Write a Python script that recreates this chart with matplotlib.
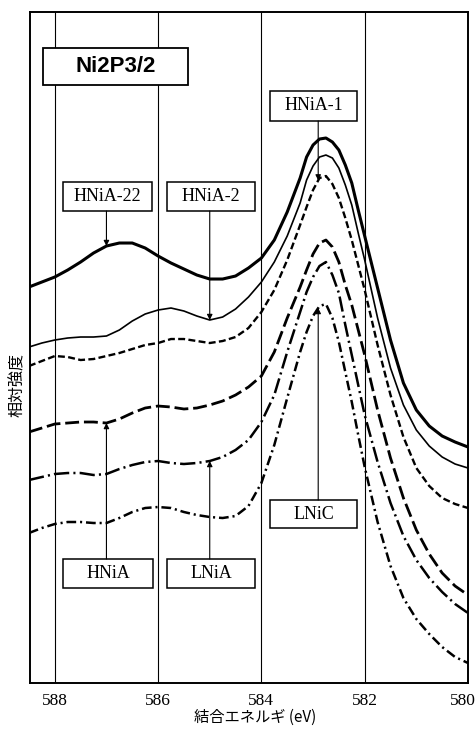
import numpy as np
import matplotlib
matplotlib.use("Agg")
import matplotlib.pyplot as plt
from matplotlib.patches import Rectangle
from matplotlib.transforms import blended_transform_factory, ScaledTranslation

plt.rcParams["lines.scale_dashes"] = False

# binding energy grid (eV), denser around the 2p3/2 main peak
energy = [588.5, 588.25, 588.0, 587.75, 587.5, 587.25, 587.0, 586.75, 586.5, 586.25,
          586.0, 585.75, 585.5, 585.25, 585.0, 584.75, 584.5, 584.25, 584.0,
          583.75, 583.5, 583.25,
          583.125, 583.0, 582.875, 582.75, 582.625, 582.5, 582.375, 582.25, 582.125, 582.0,
          581.75, 581.5, 581.25, 581.0, 580.75, 580.5, 580.25, 580.0]

# relative intensity (a.u., stacked with offsets)
hnia_22 = [39.6, 40.1, 40.6, 41.3, 42.1, 43.0, 43.7, 44.0, 44.0, 43.5,
           42.7, 42.0, 41.4, 40.8, 40.4, 40.4, 40.7, 41.5, 42.5,
           44.3, 47.1, 50.5,
           52.6, 53.8, 54.4, 54.5, 54.1, 53.3, 51.8, 50.0, 47.3, 44.7,
           39.5, 34.3, 30.0, 27.3, 25.7, 24.7, 24.1, 23.6]
hnia_2 = [33.6, 34.0, 34.3, 34.5, 34.6, 34.6, 34.7, 35.3, 36.2, 36.9,
          37.3, 37.5, 37.2, 36.7, 36.3, 36.6, 37.4, 38.6, 40.1,
          42.1, 44.7, 48.0,
          50.3, 51.7, 52.6, 52.8, 52.5, 51.5, 49.8, 47.8, 45.0, 42.3,
          36.5, 31.5, 27.8, 25.3, 23.7, 22.6, 21.9, 21.5]
hnia_1 = [31.7, 32.2, 32.7, 32.6, 32.3, 32.4, 32.7, 33.0, 33.4, 33.8,
          34.0, 34.4, 34.4, 34.2, 34.0, 34.2, 34.6, 35.5, 37.1,
          39.3, 42.3, 45.8,
          47.6, 49.3, 50.5, 50.7, 49.9, 48.5, 46.5, 44.3, 41.8, 39.3,
          33.8, 28.8, 24.6, 21.5, 19.7, 18.5, 17.9, 17.5]
hnia = [25.1, 25.5, 25.9, 26.0, 26.1, 26.1, 26.0, 26.4, 27.0, 27.5,
        27.7, 27.6, 27.4, 27.5, 27.8, 28.2, 28.8, 29.6, 30.7,
        33.1, 36.5, 39.6,
        41.3, 42.9, 44.0, 44.3, 43.6, 42.1, 39.8, 37.8, 35.3, 32.8,
        27.3, 22.5, 18.5, 15.3, 12.9, 11.0, 9.7, 8.8]
lnia = [20.3, 20.6, 20.9, 21.0, 21.0, 20.8, 20.9, 21.4, 21.8, 22.1,
        22.2, 22.0, 21.9, 22.0, 22.2, 22.6, 23.3, 24.3, 26.1,
        28.8, 33.1, 37.1,
        39.1, 40.6, 41.7, 42.1, 40.8, 39.0, 35.8, 32.8, 29.8, 26.8,
        22.1, 18.0, 14.7, 12.3, 10.5, 9.1, 7.9, 7.0]
lnic = [15.0, 15.5, 15.9, 16.1, 16.1, 16.0, 16.0, 16.5, 17.1, 17.5,
        17.6, 17.5, 17.1, 16.8, 16.6, 16.5, 16.7, 17.7, 20.0,
        23.8, 28.5, 33.1,
        35.1, 36.7, 37.7, 37.9, 36.5, 34.1, 31.1, 28.1, 24.8, 21.6,
        16.1, 11.7, 8.5, 6.4, 4.9, 3.6, 2.6, 2.0]

grid_ev = [588, 586, 584, 582]
tick_ev = [588, 586, 584, 582, 580]

serif = "Liberation Serif"
jp = ["Noto Sans CJK JP", "DejaVu Sans"]

fig = plt.figure(figsize=(4.77, 7.29), dpi=100)
ax = fig.add_axes([0.0629, 0.0631, 0.9182, 0.9204])

for e in grid_ev:
    ax.axvline(e, color="k", lw=0.8, zorder=1)

ax.plot(energy, hnia_22, color="k", lw=2.2, ls="-", zorder=3)
ax.plot(energy, hnia_2, color="k", lw=1.2, ls="-", zorder=3)
ax.plot(energy, hnia_1, color="k", lw=1.7, ls=(0, (5, 2.4)), zorder=3)
ax.plot(energy, hnia, color="k", lw=2.0, ls=(0, (10, 3.5)), zorder=3)
ax.plot(energy, lnia, color="k", lw=1.8, ls=(0, (11, 3, 1.5, 3)), zorder=3)
ax.plot(energy, lnic, color="k", lw=1.8, ls=(0, (7, 2.8, 1.5, 2.8)), zorder=3)

ax.set_xlim(588.48, 580)
ax.set_ylim(0, 67.1)
ax.set_xticks(tick_ev)
ax.set_xticklabels([str(t) for t in tick_ev], fontfamily=serif, fontsize=12.5)
ax.tick_params(axis="x", length=0, pad=7)
# keep the last label inside the figure
last = ax.get_xticklabels()[-1]
last.set_transform(last.get_transform() + ScaledTranslation(-4 / 72, 0, fig.dpi_scale_trans))
ax.set_yticks([])
for s in ax.spines.values():
    s.set_linewidth(1.4)

ax.set_xlabel("結合エネルギ (eV)", family=jp, fontsize=11)
ax.xaxis.set_label_coords(0.515, -0.039)
ax.set_ylabel("相対強度", family=jp, fontsize=11.5)
ax.yaxis.set_label_coords(-0.01, 0.444)

# title box
ax.add_patch(Rectangle((0.0297, 0.8912), 0.331, 0.0551, transform=ax.transAxes,
                       facecolor="white", edgecolor="k", lw=1.3, zorder=4))
ax.text(0.195, 0.9187, "Ni2P3/2", transform=ax.transAxes, ha="center", va="center",
        family="Liberation Sans", weight="bold", fontsize=16, zorder=5)

# peak labels: (text, box x0, box y0, width, height, energy, curve, box above curve)
labels = [
    ("HNiA-22", 0.0753, 0.7034, 0.2032, 0.0432, 587.0, hnia_22, True),
    ("HNiA-2", 0.3128, 0.7034, 0.2009, 0.0432, 585.0, hnia_2, True),
    ("HNiA-1", 0.5480, 0.8376, 0.1986, 0.0447, 582.9, hnia_1, True),
    ("HNiA", 0.0753, 0.1416, 0.2055, 0.0432, 587.0, hnia, False),
    ("LNiA", 0.3128, 0.1416, 0.2009, 0.0432, 585.0, lnia, False),
    ("LNiC", 0.5480, 0.2310, 0.1986, 0.0417, 582.9, lnic, False),
]
trans = blended_transform_factory(ax.transData, ax.transAxes)
ev_up = np.array(energy)[::-1]
for text, x0, y0, w, h, e, curve, above in labels:
    ax.add_patch(Rectangle((x0, y0), w, h, transform=ax.transAxes,
                           facecolor="white", edgecolor="k", lw=1.1, zorder=4))
    ax.text(x0 + w / 2, y0 + h / 2, text, transform=ax.transAxes, ha="center",
            va="center", family=serif, fontsize=13, zorder=5)
    tip = np.interp(e, ev_up, np.array(curve)[::-1])
    start = y0 if above else y0 + h
    ax.annotate("", xy=(e, tip), xycoords="data", xytext=(e, start), textcoords=trans,
                arrowprops=dict(arrowstyle="-|>", color="k", lw=0.8,
                                mutation_scale=8, shrinkA=0, shrinkB=0),
                zorder=4)

fig.savefig("out.png", dpi=100)
